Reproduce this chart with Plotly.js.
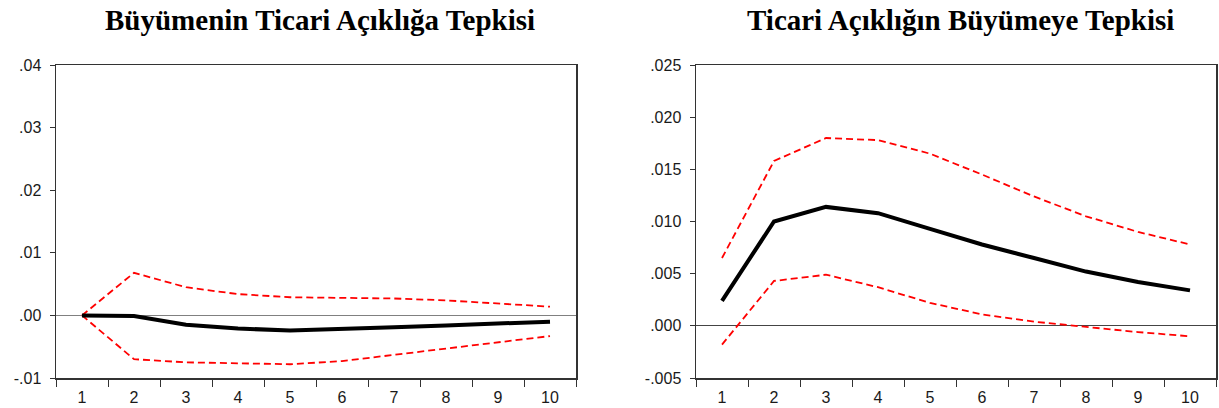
<!DOCTYPE html>
<html>
<head>
<meta charset="utf-8">
<script src="https://cdn.plot.ly/plotly-3.0.1.min.js"></script>
<style>html,body{margin:0;padding:0;background:#fff;}#chart{width:1219px;height:408px;}</style>
</head>
<body>
<div id="chart"></div>
<script>
const periods = ["1","2","3","4","5","6","7","8","9","10"];

// Left panel: response of growth to trade openness
const leftTitle = "Büyümenin Ticari Açıklığa Tepkisi";
const leftResponse = [0.0000, -0.0001, -0.0015, -0.0021, -0.0024, -0.0022, -0.0019, -0.0016, -0.0013, -0.0010];
const leftUpper    = [0.0000, 0.0068, 0.0045, 0.0034, 0.0029, 0.0028, 0.0027, 0.0024, 0.0019, 0.0014];
const leftLower    = [0.0000, -0.0070, -0.0075, -0.0077, -0.0078, -0.0073, -0.0063, -0.0053, -0.0042, -0.0033];
const leftTickVals = [-0.01, 0.00, 0.01, 0.02, 0.03, 0.04];
const leftTickText = ["-.01", ".00", ".01", ".02", ".03", ".04"];

// Right panel: response of trade openness to growth
const rightTitle = "Ticari Açıklığın Büyümeye Tepkisi";
const rightResponse = [0.0024, 0.0100, 0.0114, 0.0108, 0.0093, 0.0078, 0.0065, 0.0052, 0.0042, 0.0034];
const rightUpper    = [0.0065, 0.0158, 0.0180, 0.0178, 0.0165, 0.0145, 0.0124, 0.0105, 0.0090, 0.0078];
const rightLower    = [-0.0018, 0.0043, 0.0049, 0.0037, 0.0022, 0.0011, 0.0004, -0.0001, -0.0006, -0.0010];
const rightTickVals = [-0.005, 0.000, 0.005, 0.010, 0.015, 0.020, 0.025];
const rightTickText = ["-.005", ".000", ".005", ".010", ".015", ".020", ".025"];

const W = 1219, H = 408;
const solid = {color: "#000000", width: 4};
const dashed = {color: "#FF0000", width: 1.8, dash: "7px,4px"};

function tr(y, line, xa, ya) {
  return {x: periods, y: y, type: "scatter", mode: "lines", line: line,
          xaxis: xa, yaxis: ya, hoverinfo: "skip", showlegend: false};
}

const data = [
  tr(leftUpper, dashed, "x", "y"),
  tr(leftLower, dashed, "x", "y"),
  tr(leftResponse, solid, "x", "y"),
  tr(rightUpper, dashed, "x2", "y2"),
  tr(rightLower, dashed, "x2", "y2"),
  tr(rightResponse, solid, "x2", "y2")
];

const tickFont = {family: "Liberation Sans, Arial, sans-serif", size: 16, color: "#1a1a1a"};
const yDom = [1 - 378/H, 1 - 65/H];

function xAxis(dom, anchor) {
  return {domain: dom, anchor: anchor, type: "category", tickson: "boundaries",
    range: [-0.5, 9.5], autorange: false,
    ticks: "outside", ticklen: 7, tickwidth: 1, tickcolor: "#333", ticklabelstandoff: 4,
    showline: true, mirror: true, linecolor: "#333", linewidth: 1.5,
    showgrid: false, zeroline: false, tickfont: tickFont, fixedrange: true};
}
function yAxis(dom, anchor, range, tv, tt, zc) {
  return {domain: dom, anchor: anchor, range: range, autorange: false, tickvals: tv, ticktext: tt,
    ticks: "outside", ticklen: 5, tickwidth: 1, tickcolor: "#333", ticklabelstandoff: 5,
    showline: true, mirror: true, linecolor: "#333", linewidth: 1.5,
    showgrid: false, zeroline: true, zerolinecolor: zc, zerolinewidth: 1.2,
    tickfont: tickFont, fixedrange: true};
}

const titleFont = {family: "Liberation Serif, Times New Roman, serif", size: 29, color: "#000"};

const layout = {
  width: W, height: H,
  margin: {l: 0, r: 0, t: 0, b: 0},
  paper_bgcolor: "#fff", plot_bgcolor: "#fff",
  showlegend: false,
  xaxis: xAxis([56/W, 576/W], "y"),
  yaxis: yAxis(yDom, "x", [-0.01, 0.04], leftTickVals, leftTickText, "#808080"),
  xaxis2: xAxis([696/W, 1216/W], "y2"),
  yaxis2: yAxis(yDom, "x2", [-0.005, 0.025], rightTickVals, rightTickText, "#444"),
  annotations: [
    {text: "<b>" + leftTitle + "</b>", xref: "paper", yref: "paper", x: 320/W, y: 1 - 20/H,
     xanchor: "center", yanchor: "middle", showarrow: false, font: titleFont},
    {text: "<b>" + rightTitle + "</b>", xref: "paper", yref: "paper", x: 960/W, y: 1 - 20/H,
     xanchor: "center", yanchor: "middle", showarrow: false, font: titleFont}
  ]
};

Plotly.newPlot("chart", data, layout, {staticPlot: true, displayModeBar: false});
</script>
</body>
</html>
